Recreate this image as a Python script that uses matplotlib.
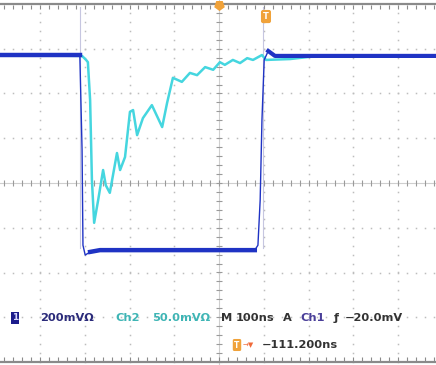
import matplotlib
matplotlib.use("Agg")
import matplotlib.pyplot as plt
import numpy as np

# scope settings: 10 x 8 divisions, 100 ns/div
ns_per_div = 100
n_hdiv, n_vdiv = 10, 8

# channel 1 (dark blue), time in ns, level in divisions
ch1_t = [-520, -311, -306, -304, -299, -288, -266, 80, 87, 92, 96, 101, 110, 125, 510]
ch1_div = [2.86, 2.86, 0.74, -1.39, -1.61, -1.54, -1.50, -1.50, -1.39, -0.38, 1.41, 2.75, 2.95, 2.84, 2.84]

# channel 2 (cyan)
ch2_t = [-512, -306, -297, -293, -288, -284, -279, -270, -259, -253, -244, -228, -221,
         -210, -199, -192, -183, -170, -150, -127, -116, -103, -83, -65, -49, -31, -13,
         2, 13, 31, 47, 63, 76, 96, 105, 159, 203, 510]
ch2_div = [2.86, 2.84, 2.75, 2.70, 1.85, 0.07, -0.89, -0.38, 0.29, -0.05, -0.22, 0.67, 0.29,
           0.58, 1.59, 1.63, 1.07, 1.45, 1.74, 1.25, 1.79, 2.35, 2.26, 2.46, 2.41, 2.59, 2.53,
           2.70, 2.64, 2.75, 2.68, 2.79, 2.75, 2.86, 2.75, 2.77, 2.82, 2.84]

# cursor positions (ns)
cursors = [-311, 98]

# readout words: text, colour, left edge in pixels
readout = [
    ("200mV\u03a9", "#2b2b7a", 40),
    ("Ch2", "#3fb5b5", 115),
    ("50.0mV\u03a9", "#3fb5b5", 152),
    ("M", "#333333", 221),
    ("100ns", "#333333", 236),
    ("A", "#333333", 283),
    ("Ch1", "#4a3f99", 300),
    ("\u0192", "#333333", 334),
    ("\u221220.0mV", "#333333", 345),
]
trig_text = "\u2212111.200ns"

W, H = 436, 365
fig = plt.figure(figsize=(W / 100, H / 100), dpi=100)
ax = fig.add_axes([0, 0, 1, 1])
px = 44.75  # pixels per division
ax.set_xlim(-219 / px * ns_per_div, (W - 219) / px * ns_per_div)
ax.set_ylim(-(H - 183) / px, 183 / px)
ax.axis("off")

grid_c = "#bdbdbd"
sub = np.arange(-n_vdiv / 2, n_vdiv / 2 + 0.01, 0.2)
subx = np.arange(-n_hdiv / 2, n_hdiv / 2 + 0.01, 0.2) * ns_per_div

# dotted graticule
for k in range(-n_hdiv // 2 + 1, n_hdiv // 2):
    if k == 0:
        continue
    ax.plot(np.full_like(sub, k * ns_per_div), sub, ls="none", marker="s",
            ms=1.1, color=grid_c, mew=0)
for k in range(-n_vdiv // 2 + 1, n_vdiv // 2):
    if k == 0:
        continue
    ax.plot(subx, np.full_like(subx, k), ls="none", marker="s", ms=1.1,
            color=grid_c, mew=0)

# centre axes with minor ticks
ax.axhline(0, color="#cfcfcf", lw=0.8)
ax.axvline(0, color="#cfcfcf", lw=0.8)
ax.plot(subx, np.zeros_like(subx), ls="none", marker="|", ms=4.5, color="#9a9a9a", mew=0.8)
ax.plot(np.zeros_like(sub), sub, ls="none", marker="_", ms=4.5, color="#9a9a9a", mew=0.8)

# top and bottom frame with ticks
for yb in (n_vdiv / 2, -n_vdiv / 2):
    ax.axhline(yb, color="#8a8a8a", lw=1.6)
    ax.plot(subx, np.full_like(subx, yb - 0.06 * np.sign(yb)), ls="none",
            marker="|", ms=3, color="#8a8a8a", mew=0.8)

# cursors
for c in cursors:
    ax.plot([c, c], [3.93, -1.45], color="#c6c6e0", lw=0.8)

# traces
ax.plot(ch2_t, ch2_div, color="#45d6df", lw=1.8, solid_joinstyle="round")
ax.plot(ch1_t, ch1_div, color="#1f33c4", lw=1.0)
ax.plot(ch1_t[:2], ch1_div[:2], color="#1f33c4", lw=3.2)
ax.plot(ch1_t[5:8], ch1_div[5:8], color="#1f33c4", lw=3.2)
ax.plot(ch1_t[12:], ch1_div[12:], color="#1f33c4", lw=3.0)

# trigger markers
ax.plot([0], [3.98], marker=(5, 0, 180), ms=8, color="#f0a23a", mew=0)
ax.text(105, 3.72, "T", ha="center", va="center", fontsize=6, fontweight="bold",
        color="white", bbox=dict(boxstyle="round,pad=0.25", fc="#f0a23a", ec="none"))

# readout
ty = 1 - 318 / H
ax.text(15 / W, ty, "1", transform=ax.transAxes, ha="center", va="center",
        fontsize=6.5, fontweight="bold", color="#d8d8ff",
        bbox=dict(boxstyle="square,pad=0.15", fc="#1c1c8c", ec="none"))
for s, col, x in readout:
    ax.text(x / W, ty, s, transform=ax.transAxes, ha="left", va="center",
            fontsize=8.2, fontweight="bold", color=col)

ty2 = 1 - 345 / H
ax.text(237 / W, ty2, "T", transform=ax.transAxes, ha="center", va="center",
        fontsize=5.5, fontweight="bold", color="white",
        bbox=dict(boxstyle="round,pad=0.2", fc="#f0a23a", ec="none"))
ax.text(243 / W, ty2, "\u2192\u25bc", transform=ax.transAxes, ha="left", va="center",
        fontsize=5, color="#f06a3a")
ax.text(262 / W, ty2, trig_text, transform=ax.transAxes, ha="left", va="center",
        fontsize=8.2, fontweight="bold", color="#333333")

fig.savefig("out.png", dpi=100, facecolor="white")
